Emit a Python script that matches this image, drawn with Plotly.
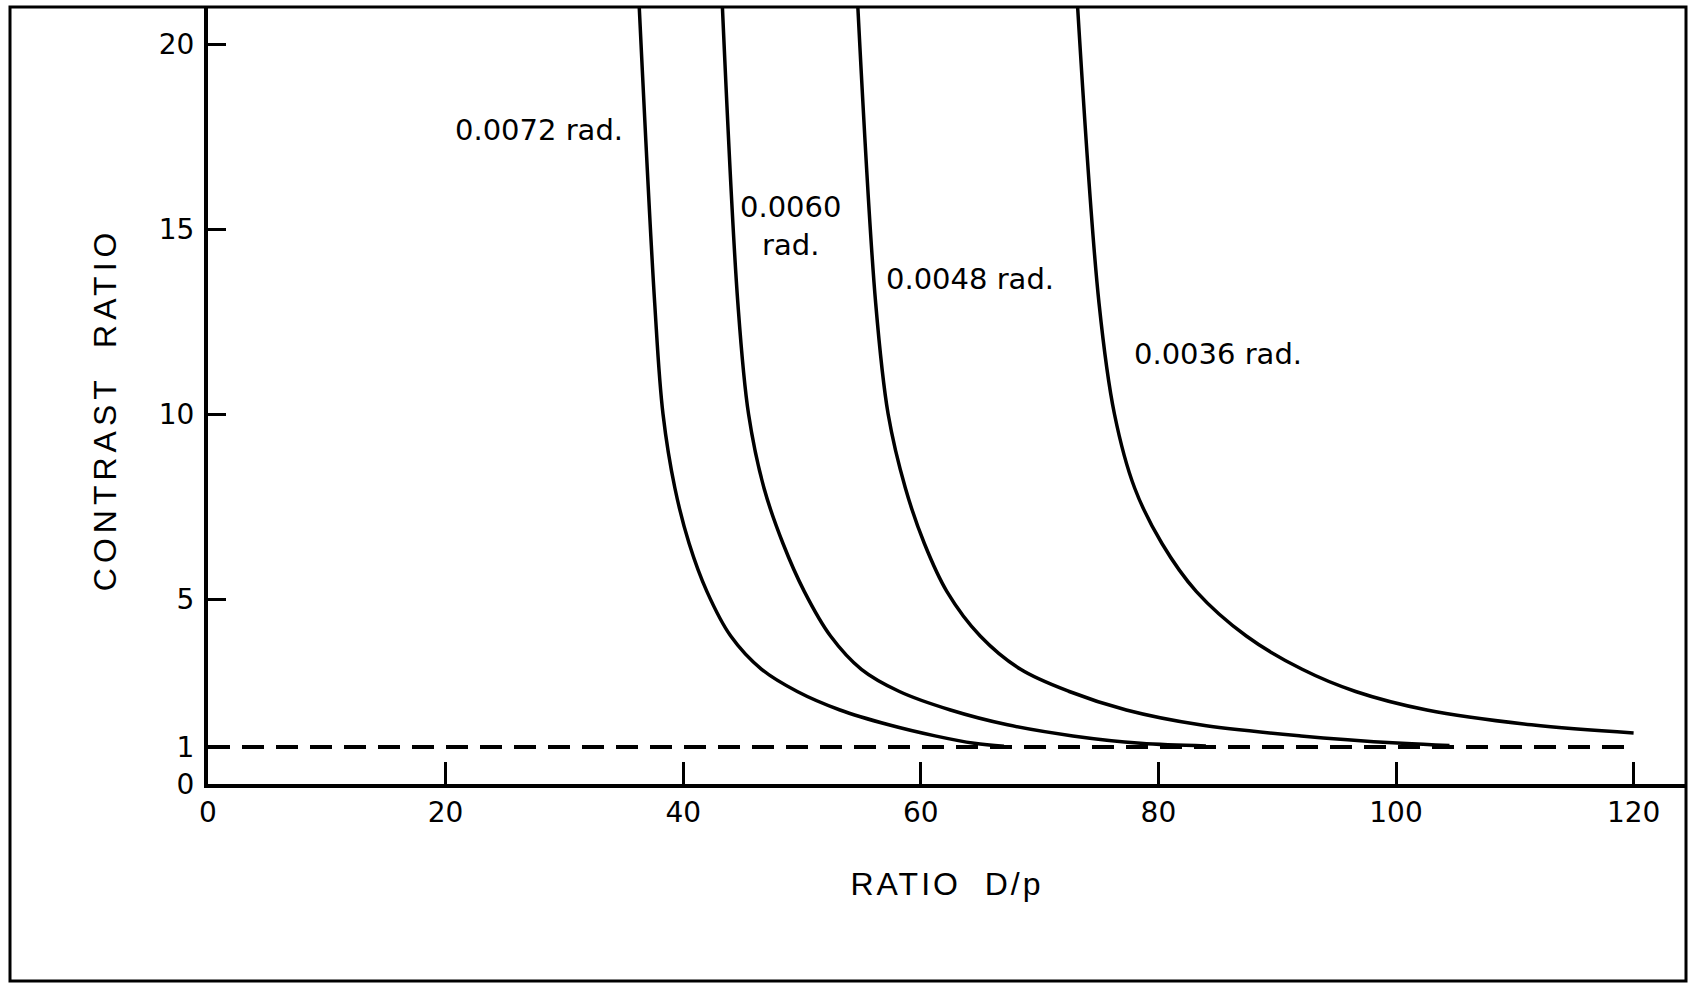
import plotly.graph_objects as go

# ---------------- data ----------------
x_ticks = [0, 20, 40, 60, 80, 100, 120]
y_ticks = [0, 1, 5, 10, 15, 20]
y_tick_text = ["0", "1", "5", "10", "15", "20"]

curve_0072_x = [36.3, 37.6, 38.3, 39.3, 40.5, 42.0, 44.0, 46.6, 49.6, 53.2, 57.3, 61.2, 64.5, 67.0]
curve_0072_y = [21.0, 13.0, 10.0, 8.0, 6.5, 5.2, 4.0, 3.1, 2.5, 2.0, 1.6, 1.3, 1.1, 1.02]

curve_0060_x = [43.3, 44.6, 45.5, 46.8, 48.4, 50.2, 52.4, 55.0, 58.2, 62.5, 67.3, 72.8, 78.5, 84.0]
curve_0060_y = [21.0, 13.0, 10.0, 8.0, 6.5, 5.2, 4.0, 3.1, 2.5, 2.0, 1.6, 1.3, 1.1, 1.03]

curve_0048_x = [54.7, 56.2, 57.25, 58.7, 60.3, 62.2, 65.0, 68.4, 72.5, 77.3, 83.5, 92.0, 100.5, 104.5]
curve_0048_y = [21.0, 13.0, 10.0, 8.0, 6.5, 5.2, 4.0, 3.1, 2.5, 2.0, 1.6, 1.3, 1.1, 1.04]

curve_0036_x = [73.2, 75.0, 76.3, 78.0, 80.3, 83.2, 87.4, 92.1, 96.6, 102.6, 111.4, 120.0]
curve_0036_y = [21.0, 13.0, 10.0, 8.0, 6.5, 5.2, 4.0, 3.1, 2.5, 2.0, 1.6, 1.38]

reference_x = [0, 120]
reference_y = [1, 1]

curve_labels = ["0.0072 rad.", "0.0060<br>rad.", "0.0048 rad.", "0.0036 rad."]
label_x = [27.9, 49.0, 64.1, 85.0]
label_y = [17.68, 15.07, 13.65, 11.62]

# ---------------- figure ----------------
W, H = 1688, 985
ML, MR, MT, MB = 208, 2, 7, 201
pw, ph = W - ML - MR, H - MT - MB
x_range = [0, pw / 11.88]
y_range = [0, 21.0]

fig = go.Figure()
line_style = dict(color="black", width=3.5, shape="spline", smoothing=1.0)
for xs, ys in [(curve_0072_x, curve_0072_y), (curve_0060_x, curve_0060_y),
               (curve_0048_x, curve_0048_y), (curve_0036_x, curve_0036_y)]:
    fig.add_trace(go.Scatter(x=xs, y=ys, mode="lines", line=line_style,
                             showlegend=False, hoverinfo="skip"))

fig.add_trace(go.Scatter(x=reference_x, y=reference_y, mode="lines",
                         line=dict(color="black", width=4, dash="22px,12px"),
                         showlegend=False, hoverinfo="skip"))

label_font = dict(family="DejaVu Sans", size=29, color="black")
for t, lx, ly in zip(curve_labels, label_x, label_y):
    fig.add_annotation(x=lx, y=ly, text=t, showarrow=False, font=label_font,
                       xanchor="center", yanchor="middle", align="center")

title_font = dict(family="Liberation Sans", size=32, color="black")
fig.update_layout(
    width=W, height=H, autosize=False,
    margin=dict(l=ML, r=MR, t=MT, b=MB, pad=0),
    paper_bgcolor="white", plot_bgcolor="white",
    xaxis=dict(range=x_range, tickvals=x_ticks, ticks="inside", ticklen=22,
               tickwidth=2.5, tickcolor="black", showline=True, linewidth=4,
               linecolor="black", showgrid=False, zeroline=False,
               tickfont=dict(family="DejaVu Sans", size=28, color="black"),
               ticklabelstandoff=0,
               title=dict(text='<span style="letter-spacing:3px">RATIO  D/p</span>',
                          font=title_font, standoff=46)),
    yaxis=dict(range=y_range, tickvals=y_ticks, ticktext=y_tick_text,
               ticks="inside", ticklen=18, tickwidth=3, tickcolor="black",
               showline=True, linewidth=4, linecolor="black", showgrid=False,
               zeroline=False,
               tickfont=dict(family="DejaVu Sans", size=28, color="black"),
               ticklabelstandoff=4,
               title=dict(text='<span style="letter-spacing:5px">CONTRAST  RATIO  </span>',
                          font=title_font, standoff=34)),
)

# outer frame of the figure (pixel positions converted to paper coordinates)
def px_to_paper_x(px):
    return (px - ML) / pw

def px_to_paper_y(py):
    return (H - MB - py) / ph

fig.add_shape(type="rect", xref="paper", yref="paper",
              x0=px_to_paper_x(10), x1=px_to_paper_x(1686),
              y0=px_to_paper_y(981), y1=px_to_paper_y(7),
              line=dict(color="black", width=3), layer="above")

fig.write_html("out.html")
